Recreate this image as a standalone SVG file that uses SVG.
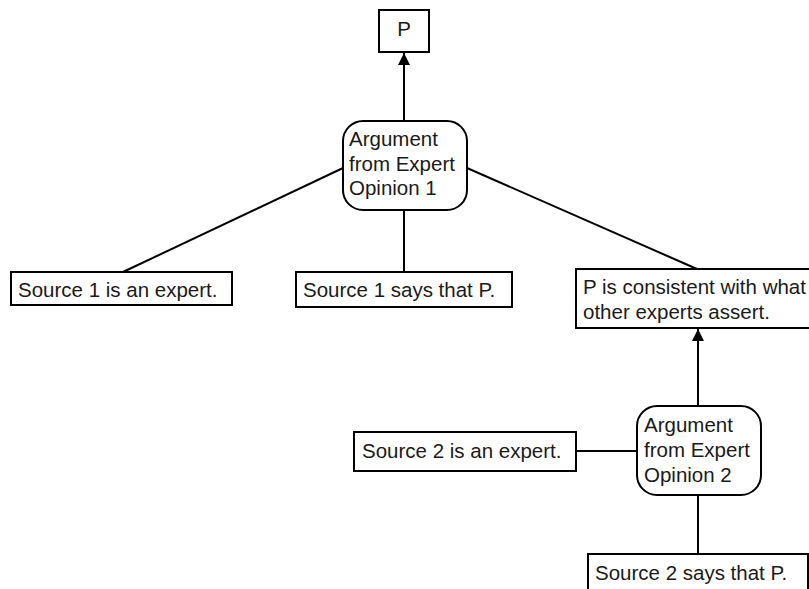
<svg xmlns="http://www.w3.org/2000/svg" width="809" height="589" viewBox="0 0 809 589">
  <style>
    .box { fill: #ffffff; stroke: #000000; stroke-width: 2; }
    .edge { stroke: #000000; stroke-width: 2; fill: none; }
    .arrow { stroke: #000000; stroke-width: 2; fill: none; marker-end: url(#ah); }
    text { font-family: "Liberation Sans", Arial, sans-serif; font-size: 20.5px; fill: #1a1a1a; }
  </style>
  <defs>
    <marker id="ah" viewBox="0 0 12 14" refX="12" refY="7" markerWidth="12" markerHeight="14" markerUnits="userSpaceOnUse" orient="auto">
      <path d="M0,1 L12,7 L0,13 Z" fill="#000000"/>
    </marker>
  </defs>
  <rect width="809" height="589" fill="#ffffff"/>

  <g id="connectors">
    <line class="arrow" x1="404" y1="121" x2="404" y2="53"/>
    <line class="edge" x1="123" y1="272" x2="343" y2="168"/>
    <line class="edge" x1="404" y1="210" x2="404" y2="272"/>
    <line class="edge" x1="467" y1="168" x2="697" y2="269"/>
    <line class="arrow" x1="698" y1="406" x2="698" y2="329"/>
    <line class="edge" x1="576" y1="451" x2="637" y2="451"/>
    <line class="edge" x1="698" y1="495" x2="698" y2="554"/>
  </g>

  <g id="node-p">
    <rect class="box" x="379" y="10" width="50" height="42"/>
    <text x="404" y="36" text-anchor="middle">P</text>
  </g>

  <g id="node-arg1">
    <rect class="box" x="343" y="121" width="124" height="89" rx="20" ry="20"/>
    <text x="349" y="146">Argument</text>
    <text x="349" y="171">from Expert</text>
    <text x="349" y="195">Opinion 1</text>
  </g>

  <g id="node-s1-expert">
    <rect class="box" x="11" y="272" width="221" height="33"/>
    <text x="18" y="296.5">Source 1 is an expert.</text>
  </g>

  <g id="node-s1-says">
    <rect class="box" x="296" y="272" width="216" height="35"/>
    <text x="303" y="296.5">Source 1 says that P.</text>
  </g>

  <g id="node-consistent">
    <rect class="box" x="576" y="269" width="240" height="59"/>
    <text x="583" y="293.5">P is consistent with what</text>
    <text x="583" y="318.5">other experts assert.</text>
  </g>

  <g id="node-arg2">
    <rect class="box" x="637" y="406" width="124" height="89" rx="20" ry="20"/>
    <text x="644" y="431.5">Argument</text>
    <text x="644" y="456.5">from Expert</text>
    <text x="644" y="481.5">Opinion 2</text>
  </g>

  <g id="node-s2-expert">
    <rect class="box" x="354" y="432" width="222" height="39"/>
    <text x="362" y="457.5">Source 2 is an expert.</text>
  </g>

  <g id="node-s2-says">
    <rect class="box" x="588" y="554" width="220" height="40"/>
    <text x="595" y="579.5">Source 2 says that P.</text>
  </g>
</svg>
